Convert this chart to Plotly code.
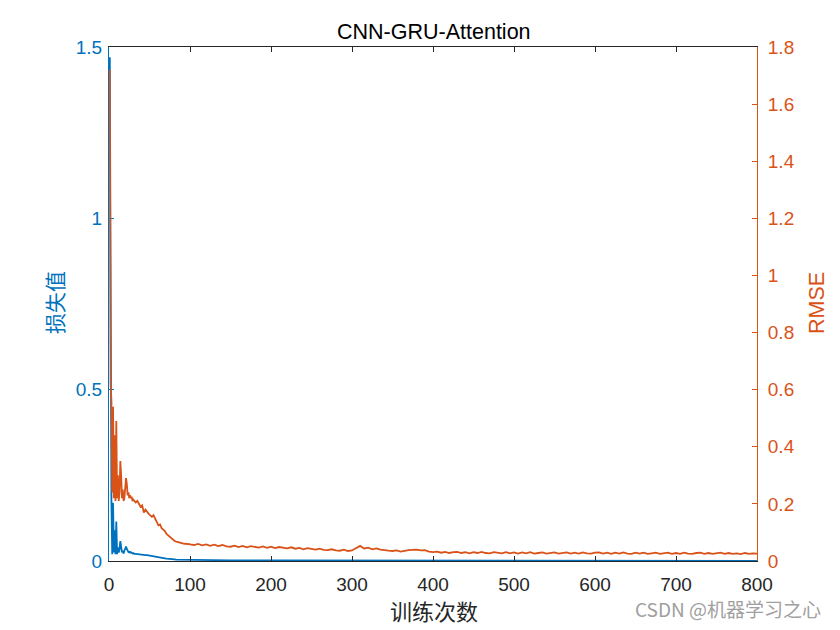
import plotly.graph_objects as go

# ---- data ----
iter_early = list(range(1, 32))
rmse_early = [1.72, 0.62, 0.56, 0.24, 0.54, 0.22, 0.44, 0.21, 0.49, 0.22, 0.30,
              0.21, 0.24, 0.35, 0.30, 0.22, 0.25, 0.21, 0.22, 0.26, 0.29, 0.27,
              0.23, 0.24, 0.22, 0.23, 0.22, 0.225, 0.21, 0.215, 0.21]
loss_early = [1.47, 0.45, 0.17, 0.02, 0.17, 0.025, 0.09, 0.02, 0.115, 0.02, 0.04,
              0.025, 0.035, 0.058, 0.045, 0.025, 0.03, 0.022, 0.03, 0.036, 0.042,
              0.035, 0.028, 0.026, 0.027, 0.024, 0.026, 0.023, 0.022, 0.023, 0.021]

iter_mid = list(range(33, 100, 2))
rmse_mid = [0.205, 0.21, 0.20, 0.19, 0.195, 0.17, 0.18, 0.17, 0.165, 0.16, 0.155,
            0.16, 0.15, 0.14, 0.125, 0.128, 0.115, 0.11, 0.105, 0.095, 0.09, 0.083,
            0.078, 0.074, 0.07, 0.068, 0.066, 0.064, 0.063, 0.062, 0.060, 0.061,
            0.059, 0.060]
loss_mid = [0.021, 0.020, 0.020, 0.019, 0.019, 0.018, 0.017, 0.017, 0.016, 0.015,
            0.014, 0.013, 0.012, 0.012, 0.011, 0.010, 0.009, 0.009, 0.008, 0.007,
            0.007, 0.006, 0.006, 0.005, 0.005, 0.004, 0.004, 0.004, 0.003, 0.003,
            0.003, 0.003, 0.003, 0.003]

rmse_late = [0.058, 0.056, 0.060, 0.055, 0.058, 0.053, 0.057, 0.052, 0.056, 0.051,
             0.050, 0.054, 0.049, 0.053, 0.048, 0.052, 0.049, 0.047, 0.051, 0.046,
             0.050, 0.045, 0.049, 0.046, 0.044, 0.048, 0.043, 0.046, 0.041, 0.045,
             0.042, 0.040, 0.043, 0.039, 0.038, 0.041, 0.037, 0.036, 0.040, 0.035,
             0.037, 0.045, 0.053, 0.044, 0.047, 0.041, 0.044, 0.040, 0.037, 0.036,
             0.035, 0.037, 0.033, 0.036, 0.038, 0.039, 0.040, 0.037, 0.038, 0.033,
             0.031, 0.033, 0.029, 0.032, 0.028, 0.031, 0.032, 0.028, 0.031, 0.027,
             0.031, 0.028, 0.032, 0.028, 0.027, 0.031, 0.028, 0.027, 0.031, 0.027,
             0.030, 0.026, 0.030, 0.027, 0.031, 0.026, 0.028, 0.030, 0.026, 0.029,
             0.030, 0.026, 0.029, 0.030, 0.026, 0.029, 0.026, 0.030, 0.027, 0.026,
             0.029, 0.030, 0.026, 0.029, 0.025, 0.029, 0.026, 0.030, 0.026, 0.025,
             0.029, 0.026, 0.029, 0.025, 0.027, 0.029, 0.025, 0.028, 0.029, 0.025,
             0.028, 0.025, 0.029, 0.026, 0.025, 0.028, 0.029, 0.025, 0.028, 0.025,
             0.027, 0.029, 0.025, 0.028, 0.025, 0.027, 0.024, 0.028, 0.025, 0.027,
             0.026]
iter_late = [100 + 5 * i for i in range(len(rmse_late))]

iter_loss_late = [100, 150, 200, 300, 400, 500, 600, 700, 800]
loss_late = [0.003, 0.002, 0.0015, 0.001, 0.0008, 0.0007, 0.0006, 0.0006, 0.0005]

x_ticks = [0, 100, 200, 300, 400, 500, 600, 700, 800]
y1_ticks = [0, 0.5, 1, 1.5]
y1_labels = ["0", "0.5", "1", "1.5"]
y2_ticks = [0, 0.2, 0.4, 0.6, 0.8, 1, 1.2, 1.4, 1.6, 1.8]
y2_labels = ["0", "0.2", "0.4", "0.6", "0.8", "1", "1.2", "1.4", "1.6", "1.8"]

BLUE = "#0072BD"
ORANGE = "#D95319"
DARK = "#262626"
FONT = "Liberation Sans, Arial, Noto Sans CJK SC"
CJK = "Noto Sans CJK SC, Liberation Sans"

W, H = 840, 630
L, R, T, B = 109, 83, 47, 69
pw, ph = W - L - R, H - T - B


def px(xp):
    return (xp - L) / pw


def py(yp):
    return (H - B - yp) / ph


fig = go.Figure()
fig.add_trace(go.Scatter(x=iter_early + iter_mid + iter_loss_late,
                         y=loss_early + loss_mid + loss_late,
                         mode="lines", line=dict(color=BLUE, width=1.8),
                         yaxis="y", showlegend=False, cliponaxis=False))
fig.add_trace(go.Scatter(x=iter_early + iter_mid + iter_late,
                         y=rmse_early + rmse_mid + rmse_late,
                         mode="lines", line=dict(color=ORANGE, width=1.8),
                         yaxis="y2", showlegend=False, cliponaxis=False))

fig.update_layout(
    width=W, height=H,
    margin=dict(l=L, r=R, t=T, b=B),
    paper_bgcolor="white", plot_bgcolor="white",
    font=dict(family=FONT, size=19, color=DARK),
    xaxis=dict(range=[0, 800], tickvals=x_ticks, ticks="inside", ticklen=5,
               tickcolor=DARK, showline=True, linecolor=DARK, linewidth=1,
               mirror="ticks", showgrid=False, zeroline=False,
               ticklabelstandoff=6,
               tickfont=dict(size=19, color=DARK, family=FONT)),
    yaxis=dict(range=[0, 1.5], tickvals=y1_ticks, ticktext=y1_labels,
               ticks="inside", ticklen=5, tickcolor=BLUE, showline=True,
               linecolor=BLUE, linewidth=1, showgrid=False, zeroline=False,
               ticklabelstandoff=2, layer="below traces",
               tickfont=dict(size=19, color=BLUE, family=FONT)),
    yaxis2=dict(range=[0, 1.8], tickvals=y2_ticks, ticktext=y2_labels,
                overlaying="y", side="right", ticks="inside", ticklen=5,
                tickcolor=ORANGE, showline=True, linecolor=ORANGE, linewidth=1,
                showgrid=False, zeroline=False, ticklabelstandoff=6,
                tickfont=dict(size=19, color=ORANGE, family=FONT)),
    annotations=[
        dict(text="CNN-GRU-Attention", x=px(434.5), y=py(31.5), xref="paper", yref="paper",
             xanchor="center", yanchor="middle",
             showarrow=False, font=dict(size=21.5, color="black", family=FONT)),
        dict(text="训练次数", x=px(434), y=py(610), xref="paper", yref="paper",
             xanchor="center", yanchor="middle",
             showarrow=False, font=dict(size=22, color=DARK, family=CJK)),
        dict(text="损失值", x=px(54), y=py(303), xref="paper", yref="paper",
             xanchor="center", yanchor="middle",
             textangle=-90, showarrow=False, font=dict(size=21, color=BLUE, family=CJK)),
        dict(text="RMSE", x=px(817), y=py(303), xref="paper", yref="paper",
             xanchor="center", yanchor="middle",
             textangle=-90, showarrow=False, font=dict(size=21.5, color=ORANGE, family=FONT)),
        dict(text="CSDN @机器学习之心", x=px(728), y=py(608), xref="paper", yref="paper",
             xanchor="center", yanchor="middle",
             showarrow=False, font=dict(size=19, color="#A0A0A0", family=CJK)),
    ],
)

fig.write_html("out.html")
